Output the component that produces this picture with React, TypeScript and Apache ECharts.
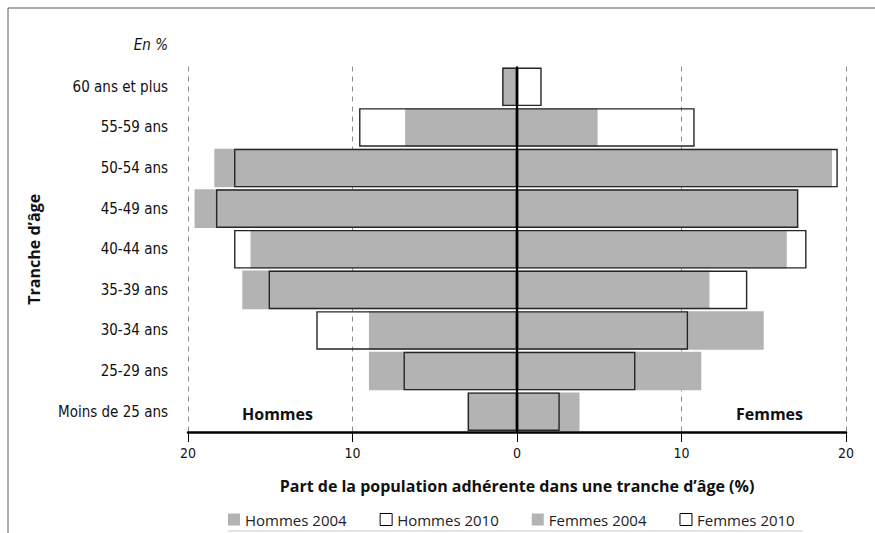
import React, { useEffect, useRef } from "react";
import * as echarts from "echarts";

const categories = [
  "Moins de 25 ans",
  "25-29 ans",
  "30-34 ans",
  "35-39 ans",
  "40-44 ans",
  "45-49 ans",
  "50-54 ans",
  "55-59 ans",
  "60 ans et plus",
];
const hommes2004 = [3.0, 9.0, 9.0, 16.7, 16.2, 19.6, 18.4, 6.8, 0.9];
const hommes2010 = [3.0, 6.9, 12.2, 15.1, 17.2, 18.3, 17.2, 9.6, 0.9];
const femmes2004 = [3.8, 11.2, 15.0, 11.7, 16.4, 17.1, 19.15, 4.9, 0];
const femmes2010 = [2.6, 7.2, 10.4, 14.0, 17.6, 17.1, 19.5, 10.8, 1.5];

const seriesNames = ["Hommes 2004", "Hommes 2010", "Femmes 2004", "Femmes 2010"];

const GREY = "#b3b3b3";
const EDGE = "#262626";
const NARROW = "'Liberation Sans Narrow', 'DejaVu Sans Condensed', 'Open Sans', sans-serif";
const SANS = "'Open Sans', 'Noto Sans', sans-serif";

export default function App() {
  const ref = useRef<HTMLDivElement>(null);
  useEffect(() => {
    document.body.style.margin = "0";
    const chart = echarts.init(ref.current!, null, { renderer: "svg" });
    const greyStyle = { color: GREY };
    const boxStyle = { color: "rgba(0,0,0,0)", borderColor: EDGE, borderWidth: 1.4 };
    const legendBox = { color: "#ffffff", borderColor: "#000", borderWidth: 1 };
    const bar = (name: string, data: number[], style: any, z: number) => ({
      name,
      type: "bar",
      data,
      barGap: "-100%",
      barCategoryGap: "5%",
      itemStyle: style,
      z,
      emphasis: { disabled: true },
    });
    chart.setOption({
      animation: false,
      grid: { left: 188, right: 29, top: 66.5, bottom: 101, containLabel: false },
      legend: {
        left: 228,
        top: 512,
        padding: 0,
        itemWidth: 12,
        itemHeight: 12,
        itemGap: 33,
        icon: "rect",
        textStyle: { fontFamily: SANS, fontSize: 15, color: "#222" },
        data: [
          { name: "Hommes 2004", itemStyle: { color: GREY, borderWidth: 0 } },
          { name: "Hommes 2010", itemStyle: legendBox },
          { name: "Femmes 2004", itemStyle: { color: GREY, borderWidth: 0 } },
          { name: "Femmes 2010", itemStyle: legendBox },
        ],
      },
      xAxis: {
        type: "value",
        min: -20,
        max: 20,
        interval: 10,
        name: "Part de la population adhérente dans une tranche d\u2019âge (%)",
        nameLocation: "middle",
        nameGap: 46,
        nameTextStyle: { fontFamily: SANS, fontSize: 16, fontWeight: "bold", color: "#111" },
        axisLine: { show: true, lineStyle: { color: "#000", width: 2.5 } },
        axisTick: { show: true, length: 10, lineStyle: { color: "#000", width: 1 } },
        axisLabel: {
          formatter: (v: number) => String(Math.abs(v)),
          fontFamily: NARROW,
          fontSize: 14,
          color: "#111",
          margin: 14,
        },
        splitLine: {
          show: true,
          lineStyle: { color: "#8c8c8c", type: [5, 5], width: 1 },
        },
      },
      yAxis: {
        type: "category",
        data: categories,
        name: "Tranche d\u2019âge",
        nameLocation: "middle",
        nameRotate: 90,
        nameGap: 146,
        nameTextStyle: { fontFamily: SANS, fontSize: 16, fontWeight: "bold", color: "#111" },
        axisLine: { show: false },
        axisTick: { show: false },
        axisLabel: { fontFamily: NARROW, fontSize: 15, color: "#111", margin: 20 },
        splitLine: { show: false },
      },
      series: [
        bar(seriesNames[0], hommes2004.map((v) => -v), greyStyle, 2),
        bar(seriesNames[2], femmes2004, greyStyle, 2),
        bar(seriesNames[1], hommes2010.map((v) => -v), boxStyle, 3),
        {
          ...bar(seriesNames[3], femmes2010, boxStyle, 3),
          markLine: {
            silent: true,
            symbol: "none",
            z: 10,
            label: { show: false },
            lineStyle: { color: "#000", width: 2.2, type: "solid" },
            data: [{ xAxis: 0 }],
          },
        },
      ],
      graphic: [
        {
          type: "rect",
          shape: { x: 8, y: 8, width: 900, height: 600 },
          style: { fill: "none", stroke: "#5a5a5a", lineWidth: 1 },
          silent: true,
        },
        {
          type: "text",
          x: 168,
          y: 45,
          style: {
            text: "En %",
            fontFamily: NARROW,
            fontSize: 15,
            fontStyle: "italic",
            fill: "#111",
            align: "right",
            verticalAlign: "middle",
          },
        },
        {
          type: "text",
          x: 242,
          y: 414,
          style: {
            text: "Hommes",
            fontFamily: SANS,
            fontSize: 16,
            fontWeight: "bold",
            fill: "#111",
            align: "left",
            verticalAlign: "middle",
          },
        },
        {
          type: "text",
          x: 803,
          y: 414,
          style: {
            text: "Femmes",
            fontFamily: SANS,
            fontSize: 16,
            fontWeight: "bold",
            fill: "#111",
            align: "right",
            verticalAlign: "middle",
          },
        },
        {
          type: "line",
          shape: { x1: 228, y1: 531, x2: 803, y2: 531 },
          style: { stroke: "#e4e4e4", lineWidth: 2 },
          silent: true,
        },
      ],
    });
    return () => chart.dispose();
  }, []);
  return (
    <div
      ref={ref}
      style={{ position: "absolute", left: 0, top: 0, width: 875, height: 533, background: "#fff" }}
    />
  );
}
